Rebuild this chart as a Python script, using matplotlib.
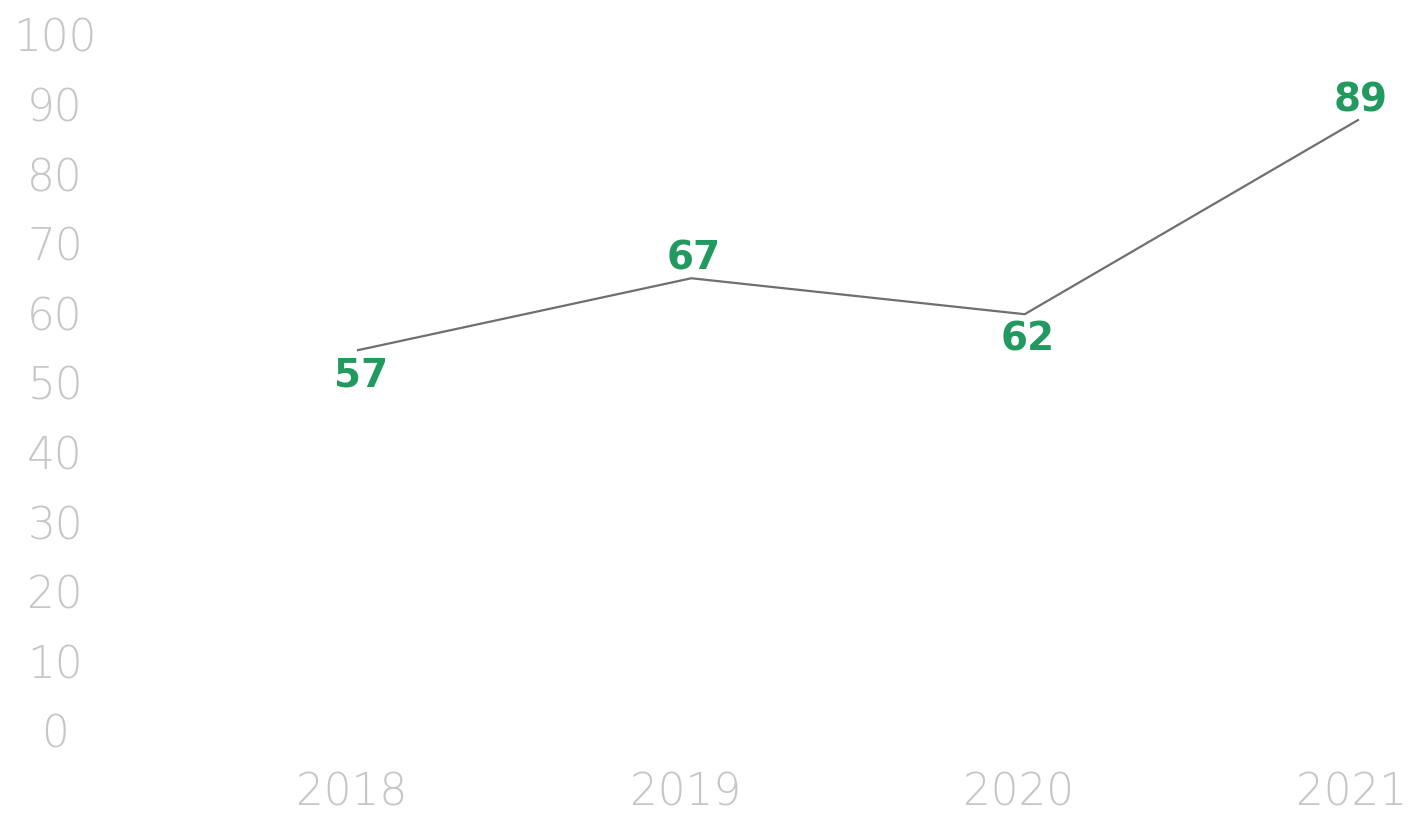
import matplotlib
matplotlib.use('Agg')
from matplotlib import pyplot as plt
from matplotlib import transforms

years = ['2018', '2019', '2020', '2021']
values = [57, 67, 62, 89]
ytick_values = [0, 10, 20, 30, 40, 50, 60, 70, 80, 90, 100]

label_grey = '#c6c6c6'
green = '#229a5f'
line_grey = '#6f6f6f'

W, H = 1408, 813
fig = plt.figure(figsize=(W / 100, H / 100), dpi=100)

# axes box in pixels: left 110, right 1408, top 0, bottom 760
ax = fig.add_axes([110 / W, (H - 760) / H, (W - 110) / W, 760 / H])
ax.plot(range(len(years)), values, color=line_grey, linewidth=1.6)
ax.set_xlim(-0.744, 3.15)
ax.set_ylim(0, 105.7)

# value labels: above when the line went up, below otherwise
for i, v in enumerate(values):
    up = i > 0 and v > values[i - 1]
    ax.annotate(str(v), (i, v), xytext=(2, 14 if up else -18), textcoords='offset points',
                ha='center', va='center', fontsize=28, fontweight='bold', color=green,
                family='DejaVu Sans')

ax.set_xticks(range(len(years)))
ax.set_xticklabels(years)
ax.tick_params(axis='x', length=0, pad=8, labelsize=31.5, labelcolor=label_grey)
ax.set_yticks([])
for s in ax.spines.values():
    s.set_visible(False)
# nudge year labels a little to the left so 2021 stays inside
shift = transforms.ScaledTranslation(-6 / 100, 0, fig.dpi_scale_trans)
for lbl in ax.get_xticklabels():
    lbl.set_fontweight(200)
    lbl.set_transform(lbl.get_transform() + shift)

# y labels on their own scale
ax2 = ax.twinx()
ax2.set_ylim(-4.17, 105.0)
ax2.yaxis.tick_left()
ax2.set_yticks(ytick_values)
ax2.set_yticklabels([str(t) for t in ytick_values])
ax2.tick_params(axis='y', length=0, pad=39.6, labelsize=31.5, labelcolor=label_grey)
for lbl in ax2.get_yticklabels():
    lbl.set_ha('center')
    lbl.set_fontweight(200)
for s in ax2.spines.values():
    s.set_visible(False)

fig.savefig('out.png', dpi=100)
